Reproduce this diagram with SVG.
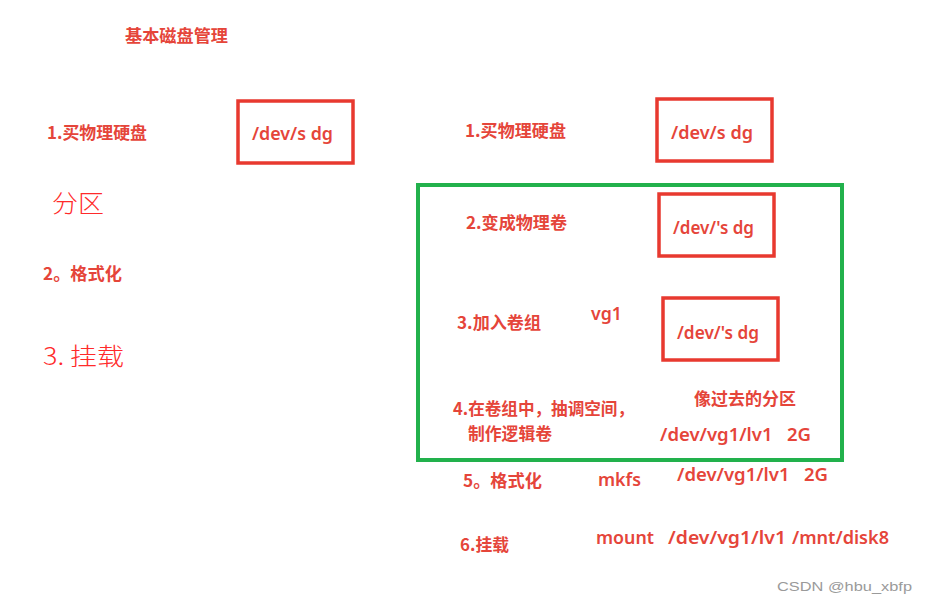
<svg xmlns="http://www.w3.org/2000/svg" width="928" height="602" viewBox="0 0 928 602">
<style>
.b{font-family:"Noto Sans CJK SC","Noto Sans",sans-serif;font-weight:700;fill:#e5453a;font-size:17px}
.m{font-family:"Noto Sans","Noto Sans CJK SC",sans-serif;font-weight:600;fill:#e5453a;font-size:18px}
.t{font-family:"Noto Sans CJK SC",sans-serif;font-weight:300;fill:#ff2a2a;font-size:24px}
.box{fill:none;stroke:#e8392f;stroke-width:3.5}
.grp{fill:none;stroke:#22b14c;stroke-width:4}
.wm{font-family:"Liberation Sans",Arial,sans-serif;fill:#9a9a9a;font-size:13px}
</style>
<rect width="928" height="602" fill="#ffffff"/>
<g id="title"><text class="b" x="125" y="42" textLength="103" lengthAdjust="spacingAndGlyphs">基本磁盘管理</text></g>
<g id="left">
<text class="b" x="47" y="139" textLength="100" lengthAdjust="spacingAndGlyphs">1.买物理硬盘</text>
<g id="disk-left"><rect class="box" x="238" y="101" width="115" height="62"/>
<text class="m" x="252" y="140" textLength="81" lengthAdjust="spacingAndGlyphs">/dev/s dg</text></g>
<text class="t" x="52" y="212" textLength="52" lengthAdjust="spacingAndGlyphs">分区</text>
<text class="b" x="43" y="280" textLength="79" lengthAdjust="spacingAndGlyphs">2。格式化</text>
<text class="t" x="43" y="365" textLength="81" lengthAdjust="spacingAndGlyphs">3. 挂载</text>
</g>
<g id="right">
<text class="b" x="465" y="137" textLength="101" lengthAdjust="spacingAndGlyphs">1.买物理硬盘</text>
<g id="disk-right"><rect class="box" x="657" y="99" width="115" height="62"/>
<text class="m" x="671" y="139" textLength="82" lengthAdjust="spacingAndGlyphs">/dev/s dg</text></g>
</g>
<g id="lvm-group"><rect class="grp" x="418" y="185" width="424" height="275"/></g>
<g id="pv">
<text class="b" x="466" y="229" textLength="101" lengthAdjust="spacingAndGlyphs">2.变成物理卷</text>
<rect class="box" x="659" y="194" width="115" height="62"/>
<text class="m" x="673" y="234" textLength="81" lengthAdjust="spacingAndGlyphs">/dev/'s dg</text>
</g>
<g id="vg">
<text class="b" x="457" y="329" textLength="84" lengthAdjust="spacingAndGlyphs">3.加入卷组</text>
<text class="m" x="591" y="320" textLength="31" lengthAdjust="spacingAndGlyphs">vg1</text>
<rect class="box" x="663" y="298" width="115" height="62"/>
<text class="m" x="677" y="339" textLength="82" lengthAdjust="spacingAndGlyphs">/dev/'s dg</text>
</g>
<g id="lv">
<text class="b" x="694" y="405" textLength="102" lengthAdjust="spacingAndGlyphs">像过去的分区</text>
<text class="b" x="453" y="415" textLength="181" lengthAdjust="spacingAndGlyphs">4.在卷组中，抽调空间，</text>
<text class="b" x="468" y="440" textLength="84" lengthAdjust="spacingAndGlyphs">制作逻辑卷</text>
<text class="m" x="660" y="441" textLength="151" lengthAdjust="spacingAndGlyphs" xml:space="preserve">/dev/vg1/lv1   2G</text>
</g>
<g id="format">
<text class="b" x="463" y="487" textLength="79" lengthAdjust="spacingAndGlyphs">5。格式化</text>
<text class="m" x="598" y="486" textLength="43" lengthAdjust="spacingAndGlyphs">mkfs</text>
<text class="m" x="677" y="481" textLength="151" lengthAdjust="spacingAndGlyphs" xml:space="preserve">/dev/vg1/lv1   2G</text>
</g>
<g id="mount">
<text class="b" x="460" y="551" textLength="49" lengthAdjust="spacingAndGlyphs">6.挂载</text>
<text class="m" x="596" y="544" textLength="58" lengthAdjust="spacingAndGlyphs">mount</text>
<text class="m" x="668" y="544" textLength="118" lengthAdjust="spacingAndGlyphs">/dev/vg1/lv1</text>
<text class="m" x="792" y="544" textLength="97" lengthAdjust="spacingAndGlyphs">/mnt/disk8</text>
</g>
<g id="connectors"></g>
<text class="wm" x="777" y="591" textLength="135" lengthAdjust="spacingAndGlyphs">CSDN @hbu_xbfp</text>
</svg>
